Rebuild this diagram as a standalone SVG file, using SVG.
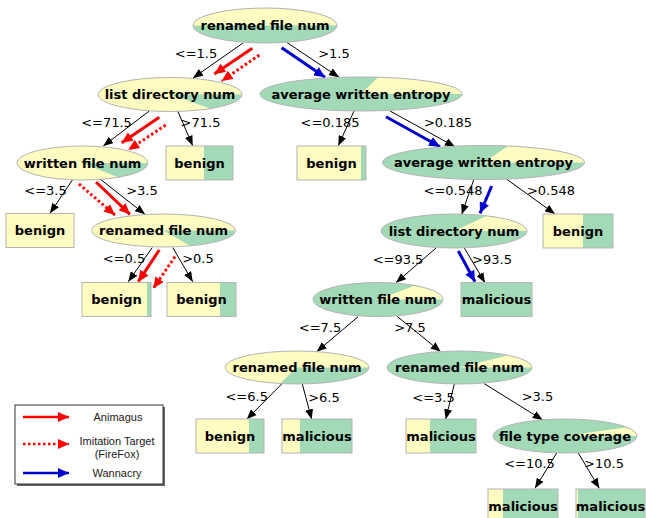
<svg xmlns="http://www.w3.org/2000/svg" width="646" height="518" viewBox="0 0 646 518">
<defs>
<style>
.bg{fill:#ffffff}
.y{fill:#fefcc0}
.g{fill:#a2d9b6}
.o{fill:none;stroke:#b4b4b4;stroke-width:1}
.n{font-family:"DejaVu Sans",sans-serif;font-size:13px;font-weight:bold;fill:#000;text-anchor:middle}
.l{font-family:"DejaVu Sans",sans-serif;font-size:13px;fill:#000;text-anchor:middle}
.e{stroke:#000;stroke-width:1;fill:none}
.rs{stroke:#ff0000;stroke-width:3;fill:none}
.rd{stroke:#ff0000;stroke-width:3;fill:none;stroke-dasharray:2.5,2.5}
.bl{stroke:#0000cc;stroke-width:3;fill:none}
.lt{font-family:"Liberation Sans",Arial,sans-serif;font-size:11px;fill:#222;text-anchor:middle}
</style>
<marker id="ah" markerUnits="userSpaceOnUse" markerWidth="10" markerHeight="8" refX="10" refY="4" orient="auto" viewBox="0 0 10 8"><path d="M0,0 L10,4 L0,8 Z" fill="#000"/></marker>
<marker id="ar" markerUnits="userSpaceOnUse" markerWidth="11" markerHeight="10" refX="11" refY="5" orient="auto" viewBox="0 0 11 10"><path d="M0,0 L11,5 L0,10 Z" fill="#ff0000"/></marker>
<marker id="ab" markerUnits="userSpaceOnUse" markerWidth="11" markerHeight="10" refX="11" refY="5" orient="auto" viewBox="0 0 11 10"><path d="M0,0 L11,5 L0,10 Z" fill="#0000cc"/></marker>
</defs>
<rect class="bg" x="0" y="0" width="646" height="518"/>

<g id="connectors">
<line class="e" x1="243" y1="43" x2="193" y2="78" marker-end="url(#ah)"/>
<line class="e" x1="287" y1="42.5" x2="339" y2="77.3" marker-end="url(#ah)"/>
<line class="e" x1="149.3" y1="111" x2="103.3" y2="146" marker-end="url(#ah)"/>
<line class="e" x1="177.7" y1="111" x2="192.7" y2="145.7" marker-end="url(#ah)"/>
<line class="e" x1="354" y1="111" x2="338.3" y2="145.7" marker-end="url(#ah)"/>
<line class="e" x1="390" y1="111" x2="455" y2="146.7" marker-end="url(#ah)"/>
<line class="e" x1="73" y1="179" x2="50" y2="213.3" marker-end="url(#ah)"/>
<line class="e" x1="100" y1="179" x2="145" y2="214.3" marker-end="url(#ah)"/>
<line class="e" x1="152.3" y1="247.5" x2="128.3" y2="281.7" marker-end="url(#ah)"/>
<line class="e" x1="172.7" y1="247.5" x2="192.7" y2="281.7" marker-end="url(#ah)"/>
<line class="e" x1="474" y1="179" x2="461.7" y2="214.3" marker-end="url(#ah)"/>
<line class="e" x1="505" y1="178" x2="555" y2="214" marker-end="url(#ah)"/>
<line class="e" x1="436" y1="248" x2="396" y2="282.7" marker-end="url(#ah)"/>
<line class="e" x1="464.3" y1="248" x2="485" y2="282.7" marker-end="url(#ah)"/>
<line class="e" x1="358.3" y1="316.5" x2="316.7" y2="351.7" marker-end="url(#ah)"/>
<line class="e" x1="397.3" y1="316.5" x2="440.7" y2="351.7" marker-end="url(#ah)"/>
<line class="e" x1="281.7" y1="384" x2="246.7" y2="419.3" marker-end="url(#ah)"/>
<line class="e" x1="302.3" y1="384" x2="311.7" y2="419.3" marker-end="url(#ah)"/>
<line class="e" x1="454.3" y1="384" x2="445.7" y2="419.3" marker-end="url(#ah)"/>
<line class="e" x1="484" y1="383.5" x2="542.7" y2="420" marker-end="url(#ah)"/>
<line class="e" x1="556.7" y1="453" x2="535" y2="488.3" marker-end="url(#ah)"/>
<line class="e" x1="578.3" y1="453" x2="599.3" y2="488.3" marker-end="url(#ah)"/>

<line class="rs" x1="252.3" y1="48.3" x2="214.3" y2="74" marker-end="url(#ar)"/>
<line class="rd" x1="259.3" y1="55" x2="221.7" y2="81" marker-end="url(#ar)"/>
<line class="bl" x1="281.7" y1="47.7" x2="325" y2="77.3" marker-end="url(#ab)"/>
<line class="rs" x1="159.3" y1="117.3" x2="121.7" y2="142.7" marker-end="url(#ar)"/>
<line class="rd" x1="165.7" y1="125" x2="128.3" y2="150" marker-end="url(#ar)"/>
<line class="bl" x1="386" y1="116.7" x2="440" y2="146.7" marker-end="url(#ab)"/>
<line class="rs" x1="96" y1="182" x2="130" y2="214.3" marker-end="url(#ar)"/>
<line class="rd" x1="79" y1="184" x2="115" y2="215" marker-end="url(#ar)"/>
<line class="rs" x1="159.3" y1="250" x2="138.3" y2="281.7" marker-end="url(#ar)"/>
<line class="rd" x1="175" y1="256.7" x2="153.3" y2="288.3" marker-end="url(#ar)"/>
<line class="bl" x1="491.7" y1="186" x2="480" y2="213.3" marker-end="url(#ab)"/>
<line class="bl" x1="458.3" y1="251" x2="475" y2="281.7" marker-end="url(#ab)"/>

<text class="l" x="196" y="57.5">&lt;=1.5</text>
<text class="l" x="334" y="57.5">&gt;1.5</text>
<text class="l" x="106.5" y="126.8">&lt;=71.5</text>
<text class="l" x="200.5" y="126.8">&gt;71.5</text>
<text class="l" x="330" y="126.8">&lt;=0.185</text>
<text class="l" x="448" y="126.8">&gt;0.185</text>
<text class="l" x="45.5" y="194.5">&lt;=3.5</text>
<text class="l" x="142" y="194.5">&gt;3.5</text>
<text class="l" x="124" y="262.5">&lt;=0.5</text>
<text class="l" x="198" y="262.5">&gt;0.5</text>
<text class="l" x="453" y="194.5">&lt;=0.548</text>
<text class="l" x="551" y="194.5">&gt;0.548</text>
<text class="l" x="398" y="263.5">&lt;=93.5</text>
<text class="l" x="492" y="263.5">&gt;93.5</text>
<text class="l" x="320" y="331.5">&lt;=7.5</text>
<text class="l" x="410" y="331.5">&gt;7.5</text>
<text class="l" x="246.7" y="400.5">&lt;=6.5</text>
<text class="l" x="324" y="401.5">&gt;6.5</text>
<text class="l" x="433.5" y="401.5">&lt;=3.5</text>
<text class="l" x="537.5" y="401">&gt;3.5</text>
<text class="l" x="529.5" y="467.5">&lt;=10.5</text>
<text class="l" x="604" y="467.5">&gt;10.5</text>
</g>

<g id="n1">
<ellipse class="g" cx="265" cy="25.5" rx="72" ry="17.5"/>
<path class="y" d="M193,25.5 A72,17.5 0 0 1 337,25.5 Z"/>
<ellipse class="o" cx="265" cy="25.5" rx="72" ry="17.5"/>
<text class="n" x="265" y="30">renamed file num</text>
</g>
<g id="n2">
<ellipse class="y" cx="170" cy="94.5" rx="72" ry="17"/>
<path class="g" d="M170,94.5 L242,94.5 A72,17 0 0 1 210,108.6 Z"/>
<ellipse class="o" cx="170" cy="94.5" rx="72" ry="17"/>
<text class="n" x="170" y="99">list directory num</text>
</g>
<g id="n3">
<ellipse class="g" cx="361" cy="94" rx="101" ry="17"/>
<path class="y" d="M361,94 L462,94 A101,17 0 0 0 378,77.2 Z"/>
<ellipse class="o" cx="361" cy="94" rx="101" ry="17"/>
<text class="n" x="361" y="98.5">average written entropy</text>
</g>
<g id="n4">
<ellipse class="y" cx="82.5" cy="163" rx="65.5" ry="17"/>
<path class="g" d="M82.5,163 L148,163 A65.5,17 0 0 1 118,177.3 Z"/>
<ellipse class="o" cx="82.5" cy="163" rx="65.5" ry="17"/>
<text class="n" x="82.5" y="167.5">written file num</text>
</g>
<g id="n5">
<rect class="y" x="166" y="146" width="38" height="34"/>
<rect class="g" x="204" y="146" width="29" height="34"/>
<rect class="o" x="166" y="146" width="67" height="34"/>
<text class="n" x="199.5" y="167.5">benign</text>
</g>
<g id="n6">
<rect class="y" x="297" y="146" width="64" height="34"/>
<rect class="g" x="361" y="146" width="5" height="34"/>
<rect class="o" x="297" y="146" width="69" height="34"/>
<text class="n" x="331.5" y="167.5">benign</text>
</g>
<g id="n7">
<ellipse class="g" cx="483.5" cy="162.5" rx="101" ry="17"/>
<path class="y" d="M483.5,162.5 L584.5,162.5 A101,17 0 0 0 508,146 Z"/>
<ellipse class="o" cx="483.5" cy="162.5" rx="101" ry="17"/>
<text class="n" x="483.5" y="167">average written entropy</text>
</g>
<g id="n8">
<rect class="y" x="6" y="213.5" width="68" height="34"/>
<rect class="o" x="6" y="213.5" width="68" height="34"/>
<text class="n" x="40" y="235">benign</text>
</g>
<g id="n9">
<ellipse class="y" cx="163.5" cy="230.5" rx="72" ry="16.5"/>
<path class="g" d="M163.5,230.5 L235.5,230.5 A72,16.5 0 0 1 190,245.8 Z"/>
<ellipse class="o" cx="163.5" cy="230.5" rx="72" ry="16.5"/>
<text class="n" x="163.5" y="235">renamed file num</text>
</g>
<g id="n10">
<ellipse class="g" cx="454" cy="231" rx="73" ry="17"/>
<path class="y" d="M454,231 L527,231 A73,17 0 0 0 487,215.8 Z"/>
<ellipse class="o" cx="454" cy="231" rx="73" ry="17"/>
<text class="n" x="454" y="235.5">list directory num</text>
</g>
<g id="n11">
<rect class="y" x="543" y="214" width="40" height="34"/>
<rect class="g" x="583" y="214" width="30" height="34"/>
<rect class="o" x="543" y="214" width="70" height="34"/>
<text class="n" x="578" y="235.5">benign</text>
</g>
<g id="n12">
<rect class="y" x="82" y="282.5" width="65" height="34"/>
<rect class="g" x="147" y="282.5" width="4" height="34"/>
<rect class="o" x="82" y="282.5" width="69" height="34"/>
<text class="n" x="116.5" y="304">benign</text>
</g>
<g id="n13">
<rect class="y" x="167" y="282.5" width="53" height="34"/>
<rect class="g" x="220" y="282.5" width="16" height="34"/>
<rect class="o" x="167" y="282.5" width="69" height="34"/>
<text class="n" x="201.5" y="304">benign</text>
</g>
<g id="n14">
<ellipse class="g" cx="378" cy="299.5" rx="65" ry="17"/>
<path class="y" d="M378,299.5 L443,299.5 A65,17 0 0 0 415,285.5 Z"/>
<ellipse class="o" cx="378" cy="299.5" rx="65" ry="17"/>
<text class="n" x="378" y="304">written file num</text>
</g>
<g id="n15">
<rect class="g" x="461" y="282.5" width="71" height="34"/>
<rect class="o" x="461" y="282.5" width="71" height="34"/>
<text class="n" x="496.5" y="304">malicious</text>
</g>
<g id="n16">
<ellipse class="y" cx="297" cy="367.5" rx="72" ry="16.5"/>
<path class="g" d="M297,367.5 L369,367.5 A72,16.5 0 0 1 280,383.5 Z"/>
<ellipse class="o" cx="297" cy="367.5" rx="72" ry="16.5"/>
<text class="n" x="297" y="372">renamed file num</text>
</g>
<g id="n17">
<ellipse class="g" cx="459.5" cy="367.5" rx="72.5" ry="16.5"/>
<path class="y" d="M459.5,367.5 L532,367.5 A72.5,16.5 0 0 0 508,355.2 Z"/>
<ellipse class="o" cx="459.5" cy="367.5" rx="72.5" ry="16.5"/>
<text class="n" x="459.5" y="372">renamed file num</text>
</g>
<g id="n18">
<rect class="y" x="196" y="419" width="53" height="34"/>
<rect class="g" x="249" y="419" width="15" height="34"/>
<rect class="o" x="196" y="419" width="68" height="34"/>
<text class="n" x="230" y="440.5">benign</text>
</g>
<g id="n19">
<rect class="y" x="282" y="419" width="18" height="34"/>
<rect class="g" x="300" y="419" width="52" height="34"/>
<rect class="o" x="282" y="419" width="70" height="34"/>
<text class="n" x="317" y="440.5">malicious</text>
</g>
<g id="n20">
<rect class="y" x="406" y="419" width="24" height="34"/>
<rect class="g" x="430" y="419" width="46" height="34"/>
<rect class="o" x="406" y="419" width="70" height="34"/>
<text class="n" x="441" y="440.5">malicious</text>
</g>
<g id="n21">
<ellipse class="g" cx="565" cy="436" rx="72" ry="17"/>
<path class="y" d="M565,436 L637,436 A72,17 0 0 0 627,427.3 Z"/>
<ellipse class="o" cx="565" cy="436" rx="72" ry="17"/>
<text class="n" x="565" y="440.5">file type coverage</text>
</g>
<g id="n22">
<rect class="y" x="488" y="489" width="15" height="34"/>
<rect class="g" x="503" y="489" width="55" height="34"/>
<rect class="o" x="488" y="489" width="70" height="34"/>
<text class="n" x="523" y="510.5">malicious</text>
</g>
<g id="n23">
<rect class="y" x="576" y="489" width="2" height="34"/>
<rect class="g" x="578" y="489" width="67" height="34"/>
<rect class="o" x="576" y="489" width="69" height="34"/>
<text class="n" x="610.5" y="510.5">malicious</text>
</g>

<g id="legend">
<rect x="17" y="407" width="148" height="79" fill="#666"/>
<rect x="15" y="405" width="148" height="79" fill="#fff" stroke="#333" stroke-width="1"/>
<line x1="23" y1="417" x2="69" y2="417" stroke="#ff0000" stroke-width="2.5" marker-end="url(#ar)"/>
<line x1="23" y1="444" x2="69" y2="444" stroke="#ff0000" stroke-width="2.5" stroke-dasharray="2.5,2.5" marker-end="url(#ar)"/>
<line x1="23" y1="473" x2="69" y2="473" stroke="#0000cc" stroke-width="2.5" marker-end="url(#ab)"/>
<text class="lt" x="118" y="421">Animagus</text>
<text class="lt" x="117" y="444.5">Imitation Target</text>
<text class="lt" x="117" y="457.5">(FireFox)</text>
<text class="lt" x="117" y="477">Wannacry</text>
</g>
</svg>
